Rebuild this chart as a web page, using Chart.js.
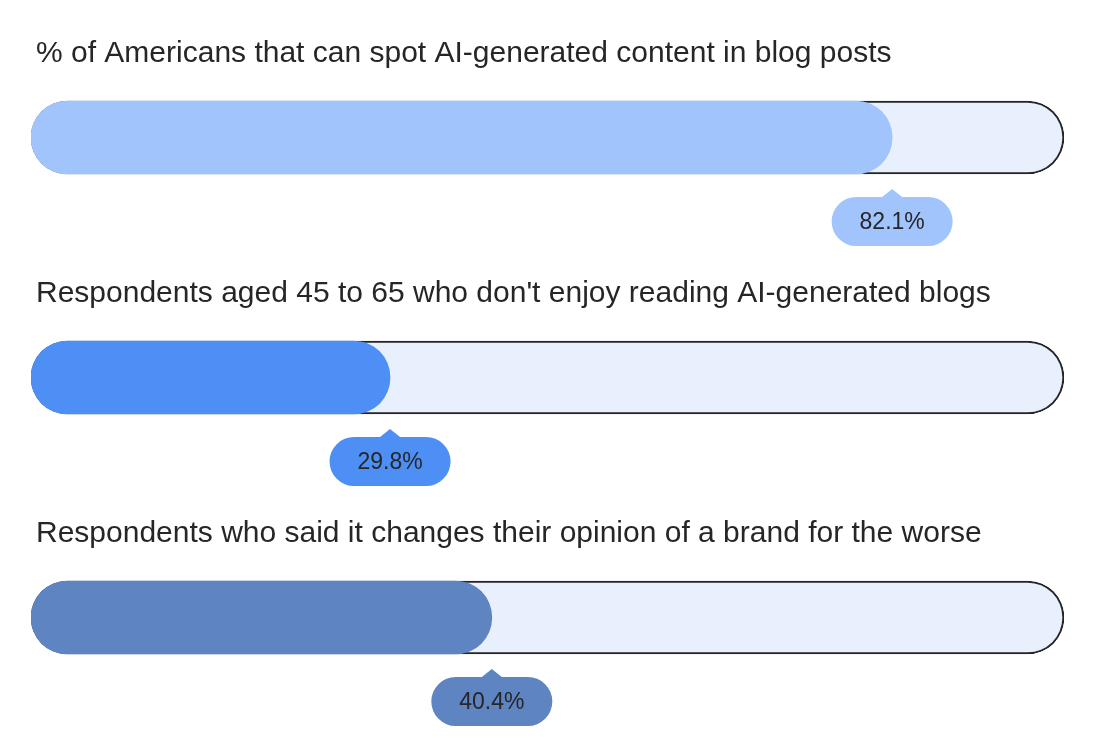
<!DOCTYPE html>
<html>
<head>
<meta charset="utf-8">
<script src="https://cdn.jsdelivr.net/npm/chart.js@4.4.1/dist/chart.umd.min.js"></script>
<style>
  html, body { margin: 0; padding: 0; background: #ffffff; }
  #wrap { width: 1100px; height: 746px; position: relative; }
</style>
</head>
<body>
<div id="wrap"><canvas id="c" width="1100" height="746"></canvas></div>
<script>
// ---- data ----
const categories = [
  "% of Americans that can spot AI-generated content in blog posts",
  "Respondents aged 45 to 65 who don't enjoy reading AI-generated blogs",
  "Respondents who said it changes their opinion of a brand for the worse"
];
const values = [82.1, 29.8, 40.4];
const trackValues = [100, 100, 100];
const valueLabels = ["82.1%", "29.8%", "40.4%"];
const AXIS_MIN = -7.6;
const AXIS_MAX = 100;

// ---- styles ----
const fillColors = ["#a1c4fd", "#4e8ff6", "#5e84c2"];
const trackColor = "#e8f0fe";
const textColor = "#262626";
const FONT = "'Liberation Sans', Arial, Helvetica, sans-serif";

const overlay = {
  id: 'overlay',
  afterDatasetsDraw(chart) {
    const ctx = chart.ctx;
    const meta = chart.getDatasetMeta(0);
    meta.data.forEach((bar, i) => {
      const half = bar.height / 2;
      const top = bar.y - half;
      const bottom = bar.y + half;
      // title
      ctx.save();
      ctx.fillStyle = textColor;
      ctx.font = "30px " + FONT;
      ctx.textAlign = 'left';
      ctx.textBaseline = 'alphabetic';
      ctx.fillText(categories[i], 36, top - 39);
      // bubble
      const cx = bar.x;
      const bw = 121, bh = 49;
      const bt = bottom + 23;
      const bl = cx - bw / 2;
      const r = bh / 2;
      ctx.fillStyle = fillColors[i];
      ctx.beginPath();
      ctx.moveTo(bl + r, bt);
      ctx.lineTo(cx - 10, bt);
      ctx.lineTo(cx, bottom + 15);
      ctx.lineTo(cx + 10, bt);
      ctx.lineTo(bl + bw - r, bt);
      ctx.arc(bl + bw - r, bt + r, r, -Math.PI / 2, Math.PI / 2);
      ctx.lineTo(bl + r, bt + bh);
      ctx.arc(bl + r, bt + r, r, Math.PI / 2, Math.PI * 1.5);
      ctx.closePath();
      ctx.fill();
      ctx.fillStyle = textColor;
      ctx.font = "23px " + FONT;
      ctx.textAlign = 'center';
      ctx.textBaseline = 'middle';
      ctx.fillText(valueLabels[i], cx, bt + bh / 2 + 1);
      ctx.restore();
    });
  }
};

new Chart(document.getElementById('c'), {
  type: 'bar',
  data: {
    labels: categories,
    datasets: [
      {
        data: values,
        base: AXIS_MIN,
        backgroundColor: fillColors,
        borderWidth: 0,
        borderRadius: 37,
        borderSkipped: false,
        barThickness: 73,
        grouped: false
      },
      {
        data: trackValues,
        base: AXIS_MIN,
        backgroundColor: trackColor,
        borderColor: "#262626",
        borderWidth: 2,
        borderRadius: 37,
        borderSkipped: false,
        barThickness: 73,
        grouped: false
      }
    ]
  },
  options: {
    indexAxis: 'y',
    responsive: false,
    animation: false,
    devicePixelRatio: 1,
    layout: { padding: { left: 31, right: 36, top: 17.5, bottom: 8.5 } },
    scales: {
      x: { min: AXIS_MIN, max: AXIS_MAX, display: false },
      y: { display: false }
    },
    plugins: {
      legend: { display: false },
      tooltip: { enabled: false }
    }
  },
  plugins: [overlay]
});
</script>
</body>
</html>
